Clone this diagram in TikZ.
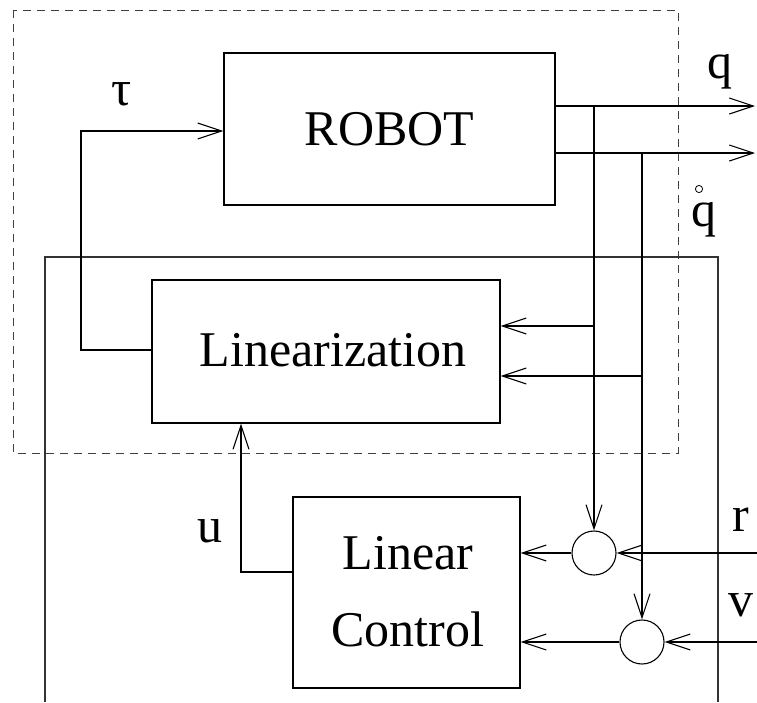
\documentclass[tikz,border=0pt]{standalone}
\usepackage{fontspec}
\setmainfont{Liberation Serif}
\usetikzlibrary{arrows.meta,positioning}
\begin{document}
\begin{tikzpicture}[x=1pt,y=-1pt,
  line width=1.1pt,
  blk/.style={draw, line width=1.1pt, inner sep=0pt},
  lbl/.style={font=\fontsize{50}{55}\selectfont, inner sep=0pt},
  sum/.style={draw, circle, minimum size=44pt, inner sep=0pt, line width=1.1pt},
  sig/.style={-{Straight Barb[length=24pt,width=16pt,line width=1.1pt]}},
  frame/.style={draw=black!75, dash pattern=on 8pt off 6pt, line width=1pt}]
\useasboundingbox (0,0) rectangle (757,702);
% dashed subsystem frame
\draw[frame] (13,10) rectangle (678,453);
% outer controller frame (open at bottom)
\draw[draw=black!80, line width=1.1pt] (45,702) -- (45,257) -- (718,257) -- (718,702);
% blocks
\node[blk, minimum width=331pt, minimum height=152pt, lbl] (robot) at (389.5,129) {ROBOT};
\node[blk, minimum width=348pt, minimum height=143pt] (lin) at (326,351.5) {};
\node[lbl] (lintext) at (333,350) {Linearization};
\node[blk, minimum width=227pt, minimum height=191pt] (lc) at (406.5,592.5) {};
\node[lbl, align=center, font=\fontsize{50}{77}\selectfont] (lctext) at (408,592) {Linear\\Control};
\node[sum] (s1) at (594,553) {};
\node[sum] (s2) at (642,642) {};
% free ends
\coordinate (qout) at (755,106);
\coordinate (qdout) at (755,153);
\coordinate (rin) at (757,553);
\coordinate (vin) at (757,642);
\coordinate (ucorner) at (241,572);
% outputs
\draw[sig] (robot.east |- 0,106) -- (qout);
\draw[sig] (robot.east |- 0,153) -- (qdout);
% feedback taps
\draw[sig] (594,106) -- (s1.north);
\draw[sig] (642,153) -- (s2.north);
\draw[sig] (594,326) -- (lin.east |- 0,326);
\draw[sig] (642,376) -- (lin.east |- 0,376);
% references
\draw[sig] (rin) -- (s1.east);
\draw[sig] (vin) -- (s2.east);
\draw[sig] (s1.west) -- (lc.east |- s1.west);
\draw[sig] (s2.west) -- (lc.east |- s2.west);
% tau
\draw[sig] (lin.west |- 0,350) -- (81,350) -- (81,131) -- (robot.west |- 0,131);
% u
\draw[sig] (lc.west |- ucorner) -- (ucorner) -- (ucorner |- lin.south);
% labels
\node[lbl] (tau) at (122,94) {τ};
\node[lbl] (q) at (720,72) {q};
\node[lbl] (qd) at (704,220) {q};
\draw[line width=0.8pt] (699,189) circle (3.6pt);
\node[lbl] (u) at (210,531) {u};
\node[lbl] (r) at (741,520) {r};
\node[lbl] (v) at (741,605) {v};
\end{tikzpicture}
\end{document}
